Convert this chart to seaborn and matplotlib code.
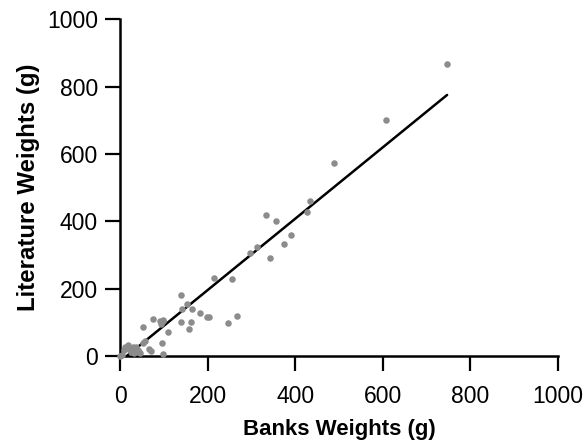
import numpy as np
import pandas as pd
import matplotlib
matplotlib.use('Agg')
import matplotlib.pyplot as plt
import seaborn as sns

# Valores (g)
banks = [747, 607, 488, 434, 428, 334, 356, 390, 375, 342, 312, 296,
         214, 255, 266, 246, 139, 153, 141, 165, 183, 199, 203, 74,
         90, 97, 99, 93, 138, 163, 158, 110, 52, 95, 97, 67, 70, 57,
         53, 17, 29, 41, 46, 8, 4, 24, 32, 0, 12, 36, 20, 44]
literature = [866, 702, 572, 459, 428, 418, 400, 358, 333, 290, 323, 305,
              231, 229, 120, 98, 182, 155, 139, 139, 127, 116, 116, 111,
              104, 107, 104, 95, 100, 101, 79, 71, 87, 40, 7, 22, 15, 45,
              40, 34, 26, 18, 8, 18, 3, 13, 8, 0, 28, 28, 20, 12]

# Reta de ajuste
fit_x = [0, 747]
fit_y = [-16, 775]

xticks = [0, 200, 400, 600, 800, 1000]
yticks = [0, 200, 400, 600, 800, 1000]

df = pd.DataFrame({'banks': banks, 'literature': literature})
fit = pd.DataFrame({'x': fit_x, 'y': fit_y})

sns.set_style('ticks')
plt.rcParams['font.family'] = ['Liberation Sans', 'DejaVu Sans']
plt.rcParams['text.color'] = 'black'
plt.rcParams['axes.labelcolor'] = 'black'

fig = plt.figure(figsize=(5.86, 4.45), dpi=100)
ax = fig.add_axes([0.205, 0.2, 0.747, 0.757])

sns.scatterplot(data=df, x='banks', y='literature', ax=ax, color='#8c8c8c',
                s=22, linewidth=0, clip_on=False, zorder=3)
sns.lineplot(data=fit, x='x', y='y', ax=ax, color='black', linewidth=1.8)

ax.set_xlim(0, 1000)
ax.set_ylim(0, 1000)
ax.set_xticks(xticks)
ax.set_yticks(yticks)
ax.tick_params(labelsize=16.5, length=11, width=1.6, direction='out',
               colors='black', labelcolor='black')
ax.tick_params(axis='x', pad=10)
ax.tick_params(axis='y', pad=5)
for s in ['left', 'bottom']:
    ax.spines[s].set_linewidth(1.8)
    ax.spines[s].set_color('black')
sns.despine(ax=ax)

ax.set_xlabel('Banks Weights (g)', fontsize=16, fontweight='bold', labelpad=8)
ax.set_ylabel('Literature Weights (g)', fontsize=17.3, fontweight='bold', labelpad=5)

plt.savefig('out.png', dpi=100)
plt.close()
